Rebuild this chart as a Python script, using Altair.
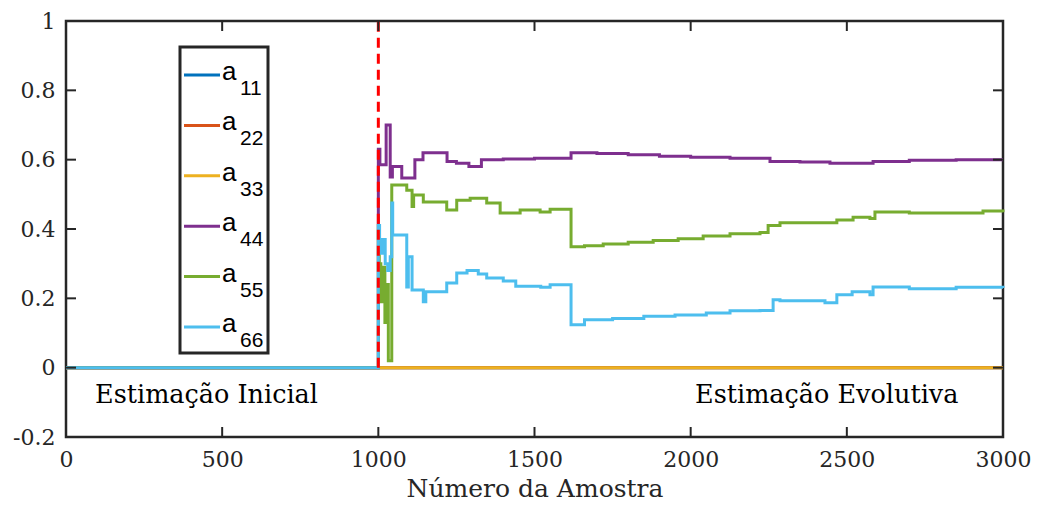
import altair as alt
import pandas as pd

# ---------------- data ----------------
series_names = ["a11", "a22", "a33", "a44", "a55", "a66"]
series_subs = ["11", "22", "33", "44", "55", "66"]
series_colors = ["#0072BD", "#D95319", "#EDB120", "#7E2F8E", "#77AC30", "#4DBEEE"]

a11_x = [0, 3000]
a11_y = [0.0, 0.0]
a22_x = [0, 3000]
a22_y = [0.0, 0.0]
a33_x = [0, 3000]
a33_y = [0.0, 0.0]

a44_x = [0, 1000, 1005, 1025, 1038, 1045, 1075, 1117, 1143, 1220, 1250, 1290, 1330,
         1400, 1500, 1617, 1700, 1800, 1900, 2000, 2126, 2254, 2350, 2446, 2520, 2584,
         2700, 2850, 3000]
a44_y = [0.0, 0.63, 0.585, 0.70, 0.55, 0.58, 0.547, 0.60, 0.62, 0.595, 0.59, 0.58, 0.60,
         0.602, 0.604, 0.62, 0.618, 0.614, 0.61, 0.607, 0.604, 0.595, 0.593, 0.59, 0.59, 0.595,
         0.598, 0.60, 0.60]

a55_x = [0, 1000, 1003, 1008, 1014, 1021, 1026, 1032, 1043, 1091, 1108, 1113, 1144,
         1219, 1251, 1294, 1347, 1390, 1454, 1518, 1550, 1617, 1660, 1720, 1800, 1880,
         1960, 2040, 2126, 2222, 2248, 2286, 2446, 2468, 2520, 2574, 2590, 2700, 2872,
         2936, 3000]
a55_y = [0.0, 0.41, 0.30, 0.19, 0.29, 0.13, 0.24, 0.02, 0.527, 0.512, 0.465, 0.498, 0.478,
         0.455, 0.483, 0.489, 0.475, 0.446, 0.455, 0.449, 0.457, 0.349, 0.352, 0.357, 0.362,
         0.367, 0.372, 0.38, 0.386, 0.39, 0.41, 0.418, 0.418, 0.426, 0.434, 0.43, 0.449,
         0.446, 0.446, 0.452, 0.448]

a66_x = [0, 1000, 1004, 1010, 1016, 1022, 1030, 1038, 1043, 1046, 1091, 1096, 1108,
         1144, 1152, 1219, 1251, 1284, 1320, 1347, 1400, 1440, 1520, 1550, 1617, 1660,
         1750, 1850, 1950, 2050, 2126, 2222, 2264, 2286, 2424, 2430, 2468, 2517, 2574,
         2584, 2700, 2850, 3000]
a66_y = [0.0, 0.41, 0.37, 0.33, 0.37, 0.30, 0.28, 0.32, 0.475, 0.383, 0.233, 0.32, 0.224,
         0.19, 0.219, 0.244, 0.273, 0.28, 0.27, 0.259, 0.25, 0.235, 0.232, 0.239, 0.124, 0.138,
         0.142, 0.148, 0.152, 0.158, 0.164, 0.165, 0.196, 0.193, 0.193, 0.187, 0.21, 0.219,
         0.21, 0.233, 0.228, 0.232, 0.23]

x_ticks = [0, 500, 1000, 1500, 2000, 2500, 3000]
y_ticks = [-0.2, 0, 0.2, 0.4, 0.6, 0.8, 1.0]

split_x = [1000]
split_y = [0.0]
split_y2 = [1.0]

ann_text = ["Estimação Inicial", "Estimação Evolutiva"]
ann_x = [93, 2014]
ann_y = [-0.078, -0.078]

# ---------------- style ----------------
W, H = 937, 416
AX = "#262626"
SERIF = "DejaVu Serif"
SANS = "Liberation Sans"

x_scale = alt.Scale(domain=[0, 3000], nice=False, zero=False)
y_scale = alt.Scale(domain=[-0.2, 1.0], nice=False, zero=False)
x_axis = alt.Axis(values=x_ticks, title="Número da Amostra", ticks=False, domain=False,
                  grid=False, labelFont=SERIF, labelFontSize=22, labelColor=AX,
                  labelPadding=12, titleFont=SERIF, titleFontSize=25, titleFontWeight="normal",
                  titleColor=AX, titlePadding=6, labelFlush=False, format="d")
y_axis = alt.Axis(values=y_ticks, title=None, ticks=False, domain=False, grid=False,
                  labelFont=SERIF, labelFontSize=22, labelColor=AX, labelPadding=11,
                  labelFlush=False,
                  labelExpr="datum.value < 0 ? '-' + format(-datum.value, '~g') : format(datum.value, '~g')")

color = alt.Color("serie:N", scale=alt.Scale(domain=series_names, range=series_colors),
                  legend=None)

xs = [a11_x, a22_x, a33_x, a44_x, a55_x, a66_x]
ys = [a11_y, a22_y, a33_y, a44_y, a55_y, a66_y]

layers = []
for name, sx, sy in zip(series_names, xs, ys):
    df = pd.DataFrame({"amostra": sx, "valor": sy, "serie": name})
    layers.append(
        alt.Chart(df).mark_line(interpolate="step-after", strokeWidth=3).encode(
            x=alt.X("amostra:Q", scale=x_scale, axis=x_axis),
            y=alt.Y("valor:Q", scale=y_scale, axis=y_axis),
            color=color,
        )
    )

split_df = pd.DataFrame({"amostra": split_x, "valor": split_y, "valor2": split_y2})
split = alt.Chart(split_df).mark_rule(color="#FF0000", strokeWidth=3,
                                      strokeDash=[10, 6]).encode(
    x=alt.X("amostra:Q", scale=x_scale, axis=x_axis),
    y=alt.Y("valor:Q", scale=y_scale, axis=y_axis),
    y2="valor2:Q",
)

ann_df = pd.DataFrame({"texto": ann_text, "amostra": ann_x, "valor": ann_y})
ann = alt.Chart(ann_df).mark_text(align="left", baseline="middle", font=SERIF,
                                  fontSize=25.5, color="#000000").encode(
    x=alt.X("amostra:Q", scale=x_scale, axis=x_axis),
    y=alt.Y("valor:Q", scale=y_scale, axis=y_axis),
    text="texto:N",
)

xt_df = pd.DataFrame({"amostra": x_ticks})
yt_df = pd.DataFrame({"valor": y_ticks})
xt_bottom = alt.Chart(xt_df).mark_rule(color=AX, strokeWidth=2).encode(
    x=alt.X("amostra:Q", scale=x_scale, axis=x_axis), y=alt.value(H), y2=alt.value(H - 10))
xt_top = alt.Chart(xt_df).mark_rule(color=AX, strokeWidth=2).encode(
    x=alt.X("amostra:Q", scale=x_scale, axis=x_axis), y=alt.value(0), y2=alt.value(10))
yt_left = alt.Chart(yt_df).mark_rule(color=AX, strokeWidth=2).encode(
    y=alt.Y("valor:Q", scale=y_scale, axis=y_axis), x=alt.value(0), x2=alt.value(10))
yt_right = alt.Chart(yt_df).mark_rule(color=AX, strokeWidth=2).encode(
    y=alt.Y("valor:Q", scale=y_scale, axis=y_axis), x=alt.value(W), x2=alt.value(W - 10))

main = alt.layer(*layers, split, ann, xt_bottom, xt_top, yt_left, yt_right)

# ---------------- legend (box with a_{ij} labels) ----------------
leg_df = pd.DataFrame({"serie": series_names, "sub": series_subs,
                       "row": list(range(len(series_names)))})
leg_y = alt.Y("row:O", scale=alt.Scale(type="point", domain=list(range(6)),
                                       range=[54, 306], padding=0), axis=None)
leg_line = alt.Chart(leg_df).mark_rule(strokeWidth=3).encode(
    y=leg_y, x=alt.value(118), x2=alt.value(154), color=color)
leg_a = alt.Chart(leg_df).mark_text(align="left", baseline="alphabetic", font=SANS,
                                    fontSize=26, dy=5, color="#000000").encode(
    y=leg_y, x=alt.value(156), text=alt.value("a"))
leg_sub = alt.Chart(leg_df).mark_text(align="left", baseline="alphabetic", font=SANS,
                                      fontSize=21, dy=20, color="#000000").encode(
    y=leg_y, x=alt.value(174), text="sub:N")
legend = alt.layer(leg_line, leg_a, leg_sub)

box = alt.Chart(pd.DataFrame({"k": [0]})).mark_rect(
    fillOpacity=0, stroke=AX, strokeWidth=3).encode(
    x=alt.value(114), x2=alt.value(202), y=alt.value(26), y2=alt.value(332))

chart = alt.layer(main, legend, box).resolve_scale(y="independent").properties(
    width=W, height=H,
    padding={"left": 66, "top": 21, "right": 37, "bottom": 76},
    autosize=alt.AutoSizeParams(type="none"),
    background="white",
).configure_view(stroke=AX, strokeWidth=2.5)

chart.save("out.html", embed_options={"renderer": "svg", "actions": False})
